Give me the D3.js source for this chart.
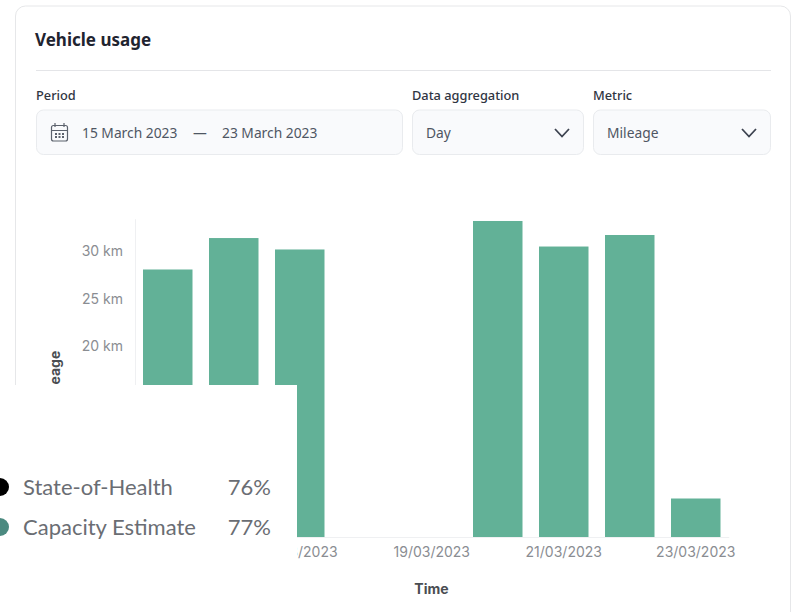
<!DOCTYPE html>
<html>
<head>
<meta charset="utf-8">
<script src="https://cdn.jsdelivr.net/npm/d3@7"></script>
<style>
  html, body { margin: 0; padding: 0; background: #fff; overflow: hidden; }
  svg { display: block; }
  .ui { font-family: "Noto Sans", sans-serif; }
  .axis text { font-family: Inter, sans-serif; font-size: 14px; fill: #8a8d92; }
  .axis path, .axis line { stroke: #eff0f2; }
  .axis-title { font-family: Inter, sans-serif; font-size: 14px; font-weight: 700; fill: #4a4d52; }
</style>
</head>
<body>
<svg id="chart" width="793" height="612"></svg>
<script>
const days = ["15/03/2023", "16/03/2023", "17/03/2023", "18/03/2023", "19/03/2023",
  "20/03/2023", "21/03/2023", "22/03/2023", "23/03/2023"];
const mileage = [28.07, 31.37, 30.17, 0, 0, 33.16, 30.48, 31.69, 4.04];
// only the ticks that are not hidden by the pasted panel
const xTickLabels = ["17/03/2023", "19/03/2023", "21/03/2023", "23/03/2023"];
const yTickValues = [20, 25, 30];

const legendNames = ["State-of-Health", "Capacity Estimate"];
const legendValues = ["76%", "77%"];
const legendColors = ["#000000", "#4b8a80"];

const svg = d3.select("#chart");
const barColor = "#62b197";
const labelColor = "#2f3542";
const valueColor = "#4f5663";

// Card
svg.append("rect")
  .attr("x", 15.5).attr("y", 6)
  .attr("width", 775).attr("height", 640)
  .attr("rx", 10)
  .attr("fill", "#fff").attr("stroke", "#e6e7e9");

svg.append("text").attr("class", "ui")
  .attr("x", 35).attr("y", 46)
  .attr("font-size", 17).attr("font-weight", 700).attr("fill", "#1f2430")
  .text("Vehicle usage");

svg.append("line")
  .attr("x1", 36).attr("x2", 771).attr("y1", 70.5).attr("y2", 70.5)
  .attr("stroke", "#e4e5e8").attr("stroke-width", 1.2);

// Form controls
const addField = (label, x, w) => {
  svg.append("text").attr("class", "ui")
    .attr("x", x).attr("y", 100)
    .attr("font-size", 12.8).attr("font-weight", 500).attr("fill", labelColor)
    .text(label);
  svg.append("rect")
    .attr("x", x + 0.5).attr("y", 110)
    .attr("width", w).attr("height", 44.5)
    .attr("rx", 7)
    .attr("fill", "#f9fafc").attr("stroke", "#e9ebee");
};
const fieldText = (text, x) => {
  svg.append("text").attr("class", "ui")
    .attr("x", x).attr("y", 138)
    .attr("font-size", 13.8).attr("fill", valueColor)
    .text(text);
};
const chevron = (x) => {
  svg.append("path")
    .attr("d", d3.line()([[x - 7, 129], [x, 136.5], [x + 7, 129]]))
    .attr("fill", "none").attr("stroke", "#3d4350").attr("stroke-width", 1.8);
};

addField("Period", 36, 366);
addField("Data aggregation", 412, 171);
addField("Metric", 593, 177);
fieldText("15 March 2023", 82);
fieldText("—", 193);
fieldText("23 March 2023", 222);
fieldText("Day", 426);
fieldText("Mileage", 607);
chevron(562);
chevron(749);

// Calendar icon
const cal = svg.append("g")
  .attr("fill", "none").attr("stroke", "#5c626d").attr("stroke-width", 1.2);
cal.append("rect").attr("x", 51.5).attr("y", 125.5).attr("width", 16).attr("height", 15.5).attr("rx", 2);
cal.append("path").attr("d", "M51.5 130.5H67.5M55 123V127M64 123V127");
cal.append("path").attr("d", "M55 134H64M55 137H64")
  .attr("stroke-width", 2).attr("stroke-dasharray", "2 1.5");

// Chart
const xScale = d3.scaleBand()
  .domain(days)
  .range([134.75, 728.75])
  .paddingInner(0.25)
  .paddingOuter(0.125);

const yScale = d3.scaleLinear()
  .domain([0, 33.4])
  .range([537, 218.7]);

svg.append("g")
  .selectAll("rect")
  .data(mileage)
  .join("rect")
  .attr("x", (d, i) => xScale(days[i]))
  .attr("y", (d) => yScale(d))
  .attr("width", xScale.bandwidth())
  .attr("height", (d) => yScale(0) - yScale(d))
  .attr("fill", barColor);

svg.append("g")
  .attr("class", "axis")
  .attr("transform", "translate(135,0)")
  .call(d3.axisLeft(yScale).tickValues(yTickValues).tickSize(0).tickPadding(12)
    .tickFormat((d) => `${d} km`));

svg.append("g")
  .attr("class", "axis")
  .attr("transform", "translate(0,537)")
  .call(d3.axisBottom(xScale).tickValues(xTickLabels).tickSize(0).tickPadding(10));

svg.append("text").attr("class", "axis-title")
  .attr("x", 431.5).attr("y", 594)
  .attr("text-anchor", "middle")
  .text("Time");

svg.append("text").attr("class", "axis-title")
  .attr("transform", "translate(60,378) rotate(-90)")
  .attr("text-anchor", "middle")
  .text("Mileage");

// Pasted panel over the lower left corner
svg.append("rect")
  .attr("x", 0).attr("y", 385)
  .attr("width", 297).attr("height", 227)
  .attr("fill", "#fff");

const rowY = d3.scalePoint().domain(legendNames).range([487, 527]);

const rows = svg.append("g")
  .selectAll("g")
  .data(legendNames)
  .join("g")
  .attr("transform", (d) => `translate(0,${rowY(d)})`);

rows.append("circle")
  .attr("cx", 0).attr("cy", 0).attr("r", 9)
  .attr("fill", (d, i) => legendColors[i]);

rows.append("text")
  .attr("x", 23).attr("y", 8)
  .attr("font-family", "Lato, sans-serif")
  .attr("font-size", 22).attr("fill", "#6a6d73")
  .text((d) => d);

rows.append("text")
  .attr("x", 271).attr("y", 8)
  .attr("text-anchor", "end")
  .attr("font-family", "Lato, sans-serif")
  .attr("font-size", 22).attr("fill", "#6a6d73")
  .text((d, i) => legendValues[i]);
</script>
</body>
</html>
